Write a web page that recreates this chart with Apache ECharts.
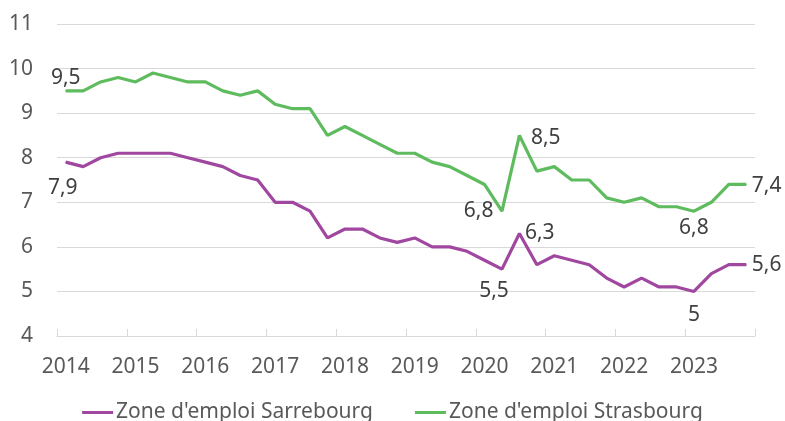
<!DOCTYPE html>
<html>
<head>
<meta charset="utf-8">
<script src="https://cdn.jsdelivr.net/npm/echarts@6/dist/echarts.min.js"></script>
<style>
  html, body { margin: 0; padding: 0; background: #fff; }
  #main { width: 785px; height: 421px; }
</style>
</head>
<body>
<div id="main"></div>
<script>
// trimestres 2014 T1 -> 2023 T4
const years = ['2014', '2015', '2016', '2017', '2018', '2019', '2020', '2021', '2022', '2023']
const quarters = ['T1', 'T2', 'T3', 'T4']
const yTicks = [4, 5, 6, 7, 8, 9, 10, 11]
const sarrebourg = [7.9, 7.8, 8.0, 8.1, 8.1, 8.1, 8.1, 8.0, 7.9, 7.8, 7.6, 7.5, 7.0, 7.0, 6.8, 6.2, 6.4, 6.4, 6.2, 6.1,
  6.2, 6.0, 6.0, 5.9, 5.7, 5.5, 6.3, 5.6, 5.8, 5.7, 5.6, 5.3, 5.1, 5.3, 5.1, 5.1, 5.0, 5.4, 5.6, 5.6]
const strasbourg = [9.5, 9.5, 9.7, 9.8, 9.7, 9.9, 9.8, 9.7, 9.7, 9.5, 9.4, 9.5, 9.2, 9.1, 9.1, 8.5, 8.7, 8.5, 8.3, 8.1,
  8.1, 7.9, 7.8, 7.6, 7.4, 6.8, 8.5, 7.7, 7.8, 7.5, 7.5, 7.1, 7.0, 7.1, 6.9, 6.9, 6.8, 7.0, 7.4, 7.4]
// points étiquetés : index -> [position, décalage x, décalage y]
const labSarre = { 0: ['bottom', -3, 10], 25: ['bottom', -8, 6], 26: ['right', 0, 0], 36: ['bottom', 0, 8], 39: ['right', 0, 0] }
const labStras = { 0: ['top', 0, 3], 25: ['left', -3, 0], 26: ['right', 6, 3], 36: ['bottom', 0, 1], 39: ['right', 0, 2] }

let categories = []
years.forEach(y => quarters.forEach(q => categories.push(y + ' ' + q)))

const FONT = '"Noto Sans", sans-serif'

function withLabels (values, labs) {
  return values.map((v, i) => {
    if (labs[i] === undefined) return v
    return {
      value: v,
      label: {
        show: true,
        position: labs[i][0],
        offset: [labs[i][1], labs[i][2]],
        distance: 5,
        formatter: p => String(p.value).replace('.', ','),
        color: '#404040',
        fontSize: 21,
        fontFamily: FONT
      }
    }
  })
}

let chart = echarts.init(document.getElementById('main'))
chart.setOption({
  animation: false,
  grid: { left: 57, right: 30, top: 24, bottom: 85 },
  xAxis: {
    type: 'category',
    data: categories,
    boundaryGap: true,
    axisLine: { lineStyle: { color: '#d9d9d9', width: 1 } },
    axisTick: { show: true, inside: true, interval: 3, length: 7, lineStyle: { color: '#d9d9d9' } },
    axisLabel: {
      interval: 3,
      margin: 21,
      color: '#595959',
      fontSize: 21,
      fontFamily: FONT,
      formatter: v => v.split(' ')[0]
    },
    splitLine: { show: false }
  },
  yAxis: {
    type: 'value',
    min: yTicks[0],
    max: yTicks[yTicks.length - 1],
    interval: 1,
    axisLine: { show: false },
    axisTick: { show: false },
    axisLabel: { margin: 24, color: '#595959', fontSize: 21, fontFamily: FONT },
    splitLine: { lineStyle: { color: '#d9d9d9', width: 1 } }
  },
  legend: {
    bottom: -7,
    left: 'center',
    itemGap: 42,
    itemWidth: 31,
    itemHeight: 3,
    icon: 'rect',
    textStyle: { color: '#595959', fontSize: 21, fontFamily: FONT, padding: [0, 0, 0, -2] },
    data: ['Zone d\'emploi Sarrebourg', 'Zone d\'emploi Strasbourg']
  },
  series: [
    {
      name: 'Zone d\'emploi Sarrebourg',
      type: 'line',
      data: withLabels(sarrebourg, labSarre),
      symbol: 'circle',
      symbolSize: 1,
      showSymbol: true,
      lineStyle: { color: '#a047a0', width: 3.2 },
      itemStyle: { color: '#a047a0' }
    },
    {
      name: 'Zone d\'emploi Strasbourg',
      type: 'line',
      data: withLabels(strasbourg, labStras),
      symbol: 'circle',
      symbolSize: 1,
      showSymbol: true,
      lineStyle: { color: '#5ebb5e', width: 3.2 },
      itemStyle: { color: '#5ebb5e' }
    }
  ]
})
</script>
</body>
</html>
